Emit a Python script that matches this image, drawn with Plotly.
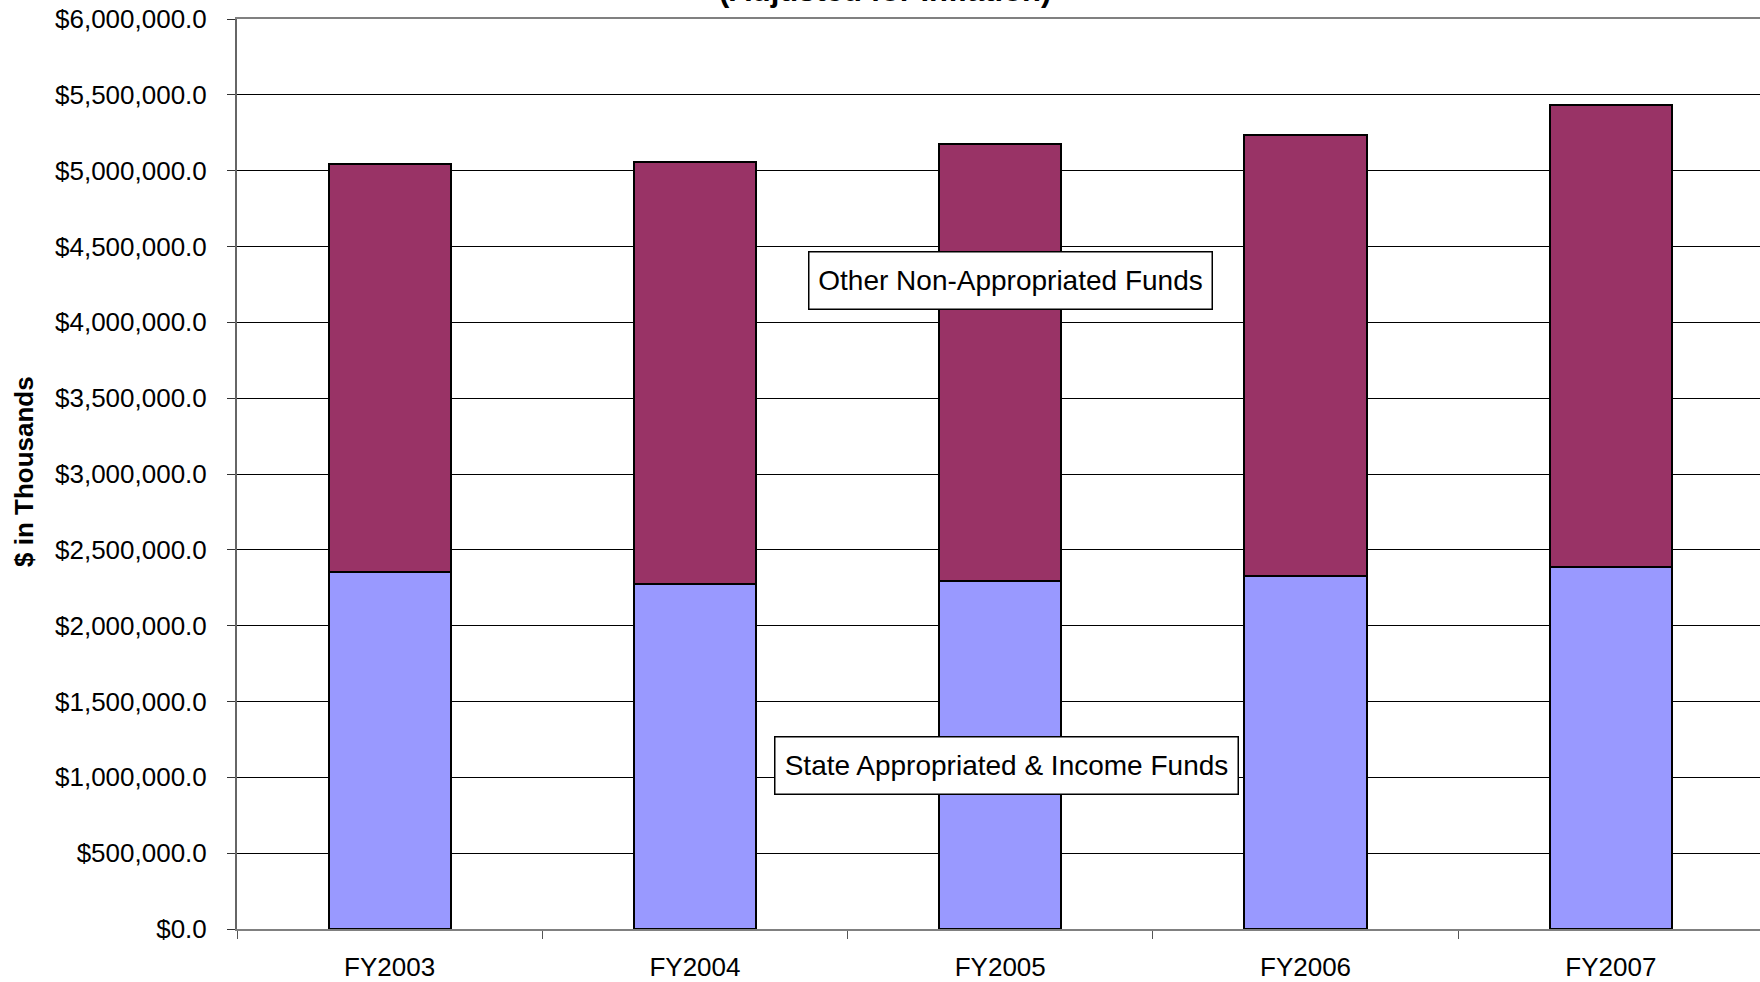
import plotly.graph_objects as go

categories = ["FY2003", "FY2004", "FY2005", "FY2006", "FY2007"]
state_funds = [2354000, 2276000, 2292000, 2325000, 2387000]
other_funds = [2691000, 2782000, 2883000, 2912000, 3047000]
y_ticks = [i * 500000 for i in range(13)]

W, H = 1760, 982
L, T, B, R = 237, 19, 53, 0
pw, ph = W - L - R, H - T - B

def px_x(x):
    return (x - L) / pw

def px_y(y):
    return (H - B - y) / ph

fig = go.Figure()
fig.add_trace(go.Bar(
    x=categories, y=state_funds, name="State Appropriated & Income Funds",
    marker=dict(color="#9999FF", line=dict(color="#000000", width=2)),
    width=0.4,
))
fig.add_trace(go.Bar(
    x=categories, y=other_funds, name="Other Non-Appropriated Funds",
    marker=dict(color="#993366", line=dict(color="#000000", width=2)),
    width=0.4,
))

ann_font = dict(family="Liberation Sans Narrow, Arial Narrow, Liberation Sans, Arial, sans-serif",
                size=28, color="#000000")

fig.update_layout(
    width=W, height=H,
    barmode="stack",
    showlegend=False,
    plot_bgcolor="white", paper_bgcolor="white",
    margin=dict(l=L, r=R, t=T, b=B, pad=0),
    font=dict(family="Liberation Sans, Arial, sans-serif", size=24, color="#000000"),
    xaxis=dict(
        range=[-0.5, -0.5 + pw / 305.3],
        showline=True, linecolor="#808080", linewidth=2, mirror=True,
        ticks="outside", tickson="boundaries", ticklen=8, tickcolor="#555555", tickwidth=1,
        showgrid=False,
        tickfont=dict(size=26), ticklabelstandoff=14,
    ),
    yaxis=dict(
        range=[0, 6000000],
        tickvals=y_ticks, tickformat="$,.1f",
        showline=True, linecolor="#666666", linewidth=2,
        ticks="outside", ticklen=8, tickcolor="#333333", tickwidth=1,
        showgrid=True, gridcolor="#000000", gridwidth=1,
        zeroline=False,
        tickfont=dict(size=26), ticklabelstandoff=15,
    ),
    annotations=[
        dict(text="<b>(Adjusted for Inflation)</b>", xref="paper", yref="paper",
             x=px_x(885), y=px_y(10), xanchor="center", yanchor="bottom",
             showarrow=False, font=dict(size=31)),
        dict(text="<b>$ in Thousands</b>", xref="paper", yref="paper",
             x=px_x(24), y=px_y(472), xanchor="center", yanchor="middle",
             textangle=-90, showarrow=False, font=dict(size=26)),
        dict(text="Other Non-Appropriated Funds", xref="paper", yref="paper",
             x=px_x(1010.5), y=px_y(280.5), xanchor="center", yanchor="middle",
             showarrow=False, font=ann_font, bgcolor="white",
             bordercolor="#000000", borderwidth=1.5, borderpad=1,
             width=400, height=54),
        dict(text="State Appropriated & Income Funds", xref="paper", yref="paper",
             x=px_x(1006.5), y=px_y(765.5), xanchor="center", yanchor="middle",
             showarrow=False, font=ann_font, bgcolor="white",
             bordercolor="#000000", borderwidth=1.5, borderpad=1,
             width=460, height=54),
    ],
)

fig.write_html("out.html", config={"displayModeBar": False},
               post_script="document.body.style.margin='0px';")
